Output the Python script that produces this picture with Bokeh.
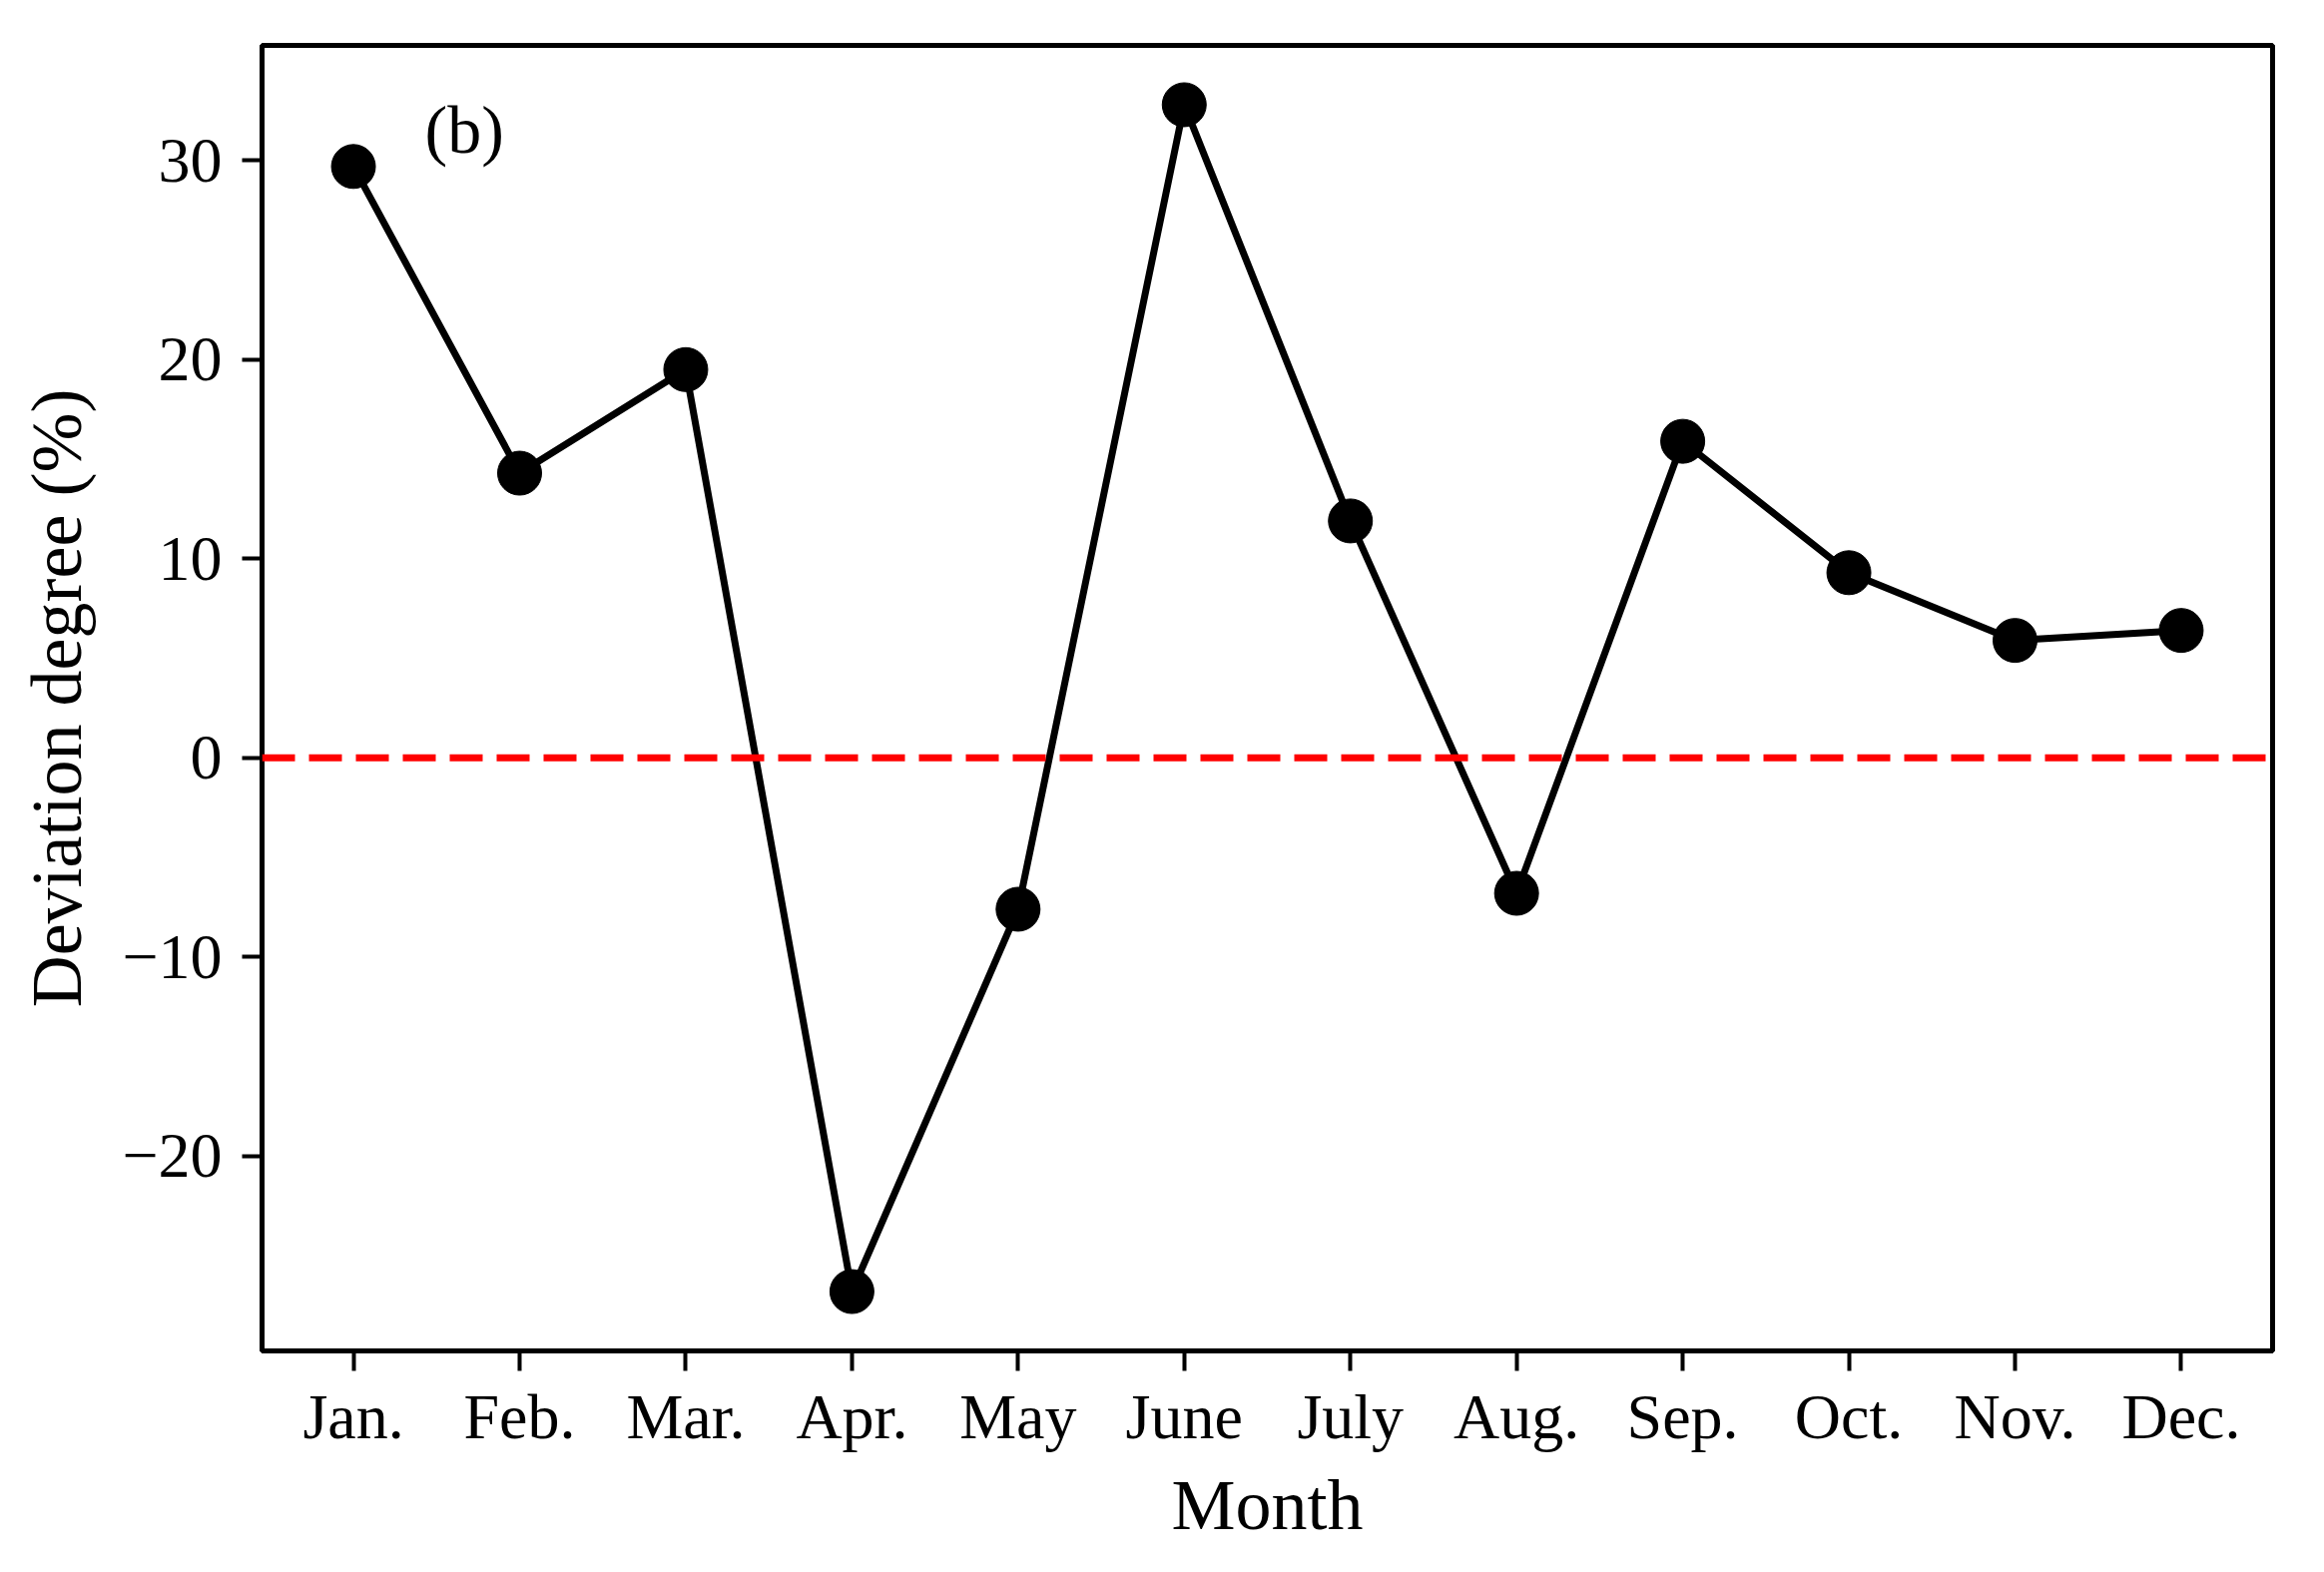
from bokeh.plotting import figure
from bokeh.models import Range1d, FixedTicker, Span, Label
from bokeh.embed import file_html
from bokeh.resources import INLINE

months = ["Jan.", "Feb.", "Mar.", "Apr.", "May", "June", "July", "Aug.", "Sep.", "Oct.", "Nov.", "Dec."]
deviation = [29.7, 14.3, 19.5, -26.8, -7.6, 32.8, 11.9, -6.8, 15.9, 9.3, 5.9, 6.4]
y_ticks = [-20, -10, 0, 10, 20, 30]
y_tick_labels = ["\u221220", "\u221210", "0", "10", "20", "30"]

FONT = "Liberation Serif"

x = list(range(len(months)))
n = len(months)
xpad = 0.05 * (n - 1)
ymin, ymax = min(deviation), max(deviation)
ypad = 0.05 * (ymax - ymin)

p = figure(width=2312, height=1559, output_backend="svg", toolbar_location=None,
           x_range=Range1d(-xpad, n - 1 + xpad),
           y_range=Range1d(ymin - ypad, ymax + ypad),
           min_border_left=262, min_border_right=36, min_border_top=45, min_border_bottom=206)
p.background_fill_color = "white"
p.border_fill_color = "white"
p.outline_line_color = "black"
p.outline_line_width = 5
p.xgrid.visible = False
p.ygrid.visible = False

p.line(x, deviation, line_color="black", line_width=7)
p.scatter(x, deviation, size=44, fill_color="black", line_color="black")

zero = Span(location=0, dimension="width", line_color="red", line_width=7, line_dash="33 14")
p.add_layout(zero)

p.xaxis.ticker = FixedTicker(ticks=x)
p.xaxis.major_label_overrides = {i: m for i, m in zip(x, months)}
p.yaxis.ticker = FixedTicker(ticks=y_ticks)
p.yaxis.major_label_overrides = {v: s for v, s in zip(y_ticks, y_tick_labels)}

for ax in (p.xaxis, p.yaxis):
    ax.axis_line_width = 5
    ax.axis_line_color = "black"
    ax.major_tick_in = 0
    ax.major_tick_out = 20
    ax.major_tick_line_width = 4
    ax.major_tick_line_color = "black"
    ax.minor_tick_line_color = None
    ax.major_label_text_font = FONT
    ax.major_label_text_font_size = "64px"
    ax.major_label_text_color = "black"
    ax.axis_label_text_font = FONT
    ax.axis_label_text_font_size = "72px"
    ax.axis_label_text_font_style = "normal"
    ax.axis_label_text_color = "black"

p.xaxis.axis_label = "Month"
p.yaxis.axis_label = "Deviation degree (%)"
p.xaxis.major_label_standoff = 10
p.yaxis.major_label_standoff = 20
p.xaxis.axis_label_standoff = 10
p.yaxis.axis_label_standoff = 22

p.add_layout(Label(x=0.43, y=31.55, text="(b)", text_font=FONT, text_font_size="68px",
                   text_color="black", text_baseline="alphabetic", text_align="left"))

open("out.html", "w").write(file_html(p, INLINE))
